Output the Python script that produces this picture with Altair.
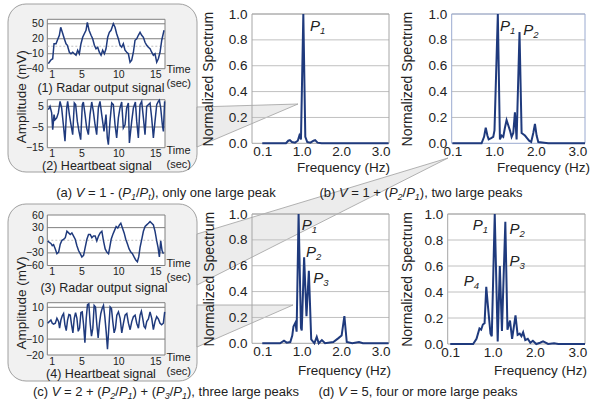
import altair as alt
import pandas as pd

FONT = "Liberation Sans"
NAVY = "#1F3A7D"
TXT = "#222222"
GRID = "#C0C0C0"
FRAME = "#A6A6A6"
W_, H_ = 600, 411

# ---------------- spectra (frequency in Hz, normalized value) ----------------
spec_a_f = [0.0, 0.60, 0.66, 0.70, 0.75, 0.83, 0.90, 0.94, 0.98, 1.04, 1.09, 1.14, 1.22, 1.30, 1.34, 1.40, 1.50, 3.20]
spec_a_v = [0.0, 0.0, 0.02, 0.025, 0.01, 0.005, 0.02, 0.06, 0.03, 1.0, 0.05, 0.01, 0.005, 0.02, 0.025, 0.005, 0.0, 0.0]

spec_b_f = [0.0, 0.70, 0.76, 0.80, 0.84, 0.87, 0.93, 0.98, 1.01, 1.09, 1.14, 1.18, 1.22, 1.26, 1.30, 1.34, 1.38, 1.42,
            1.46, 1.50, 1.54, 1.61, 1.66, 1.70, 1.74, 1.79, 1.84, 1.89, 1.94, 1.98, 2.02, 2.06, 2.20, 2.30, 3.18]
spec_b_v = [0.0, 0.0, 0.05, 0.12, 0.06, 0.03, 0.04, 0.05, 0.10, 1.0, 0.03, 0.06, 0.05, 0.12, 0.18, 0.14, 0.10, 0.05,
            0.08, 0.24, 0.03, 0.86, 0.08, 0.07, 0.06, 0.04, 0.02, 0.01, 0.08, 0.15, 0.06, 0.01, 0.005, 0.0, 0.0]

spec_c_f = [0.0, 0.45, 0.55, 0.62, 0.71, 0.76, 0.79, 0.84, 0.87, 0.92, 0.98, 1.00, 1.06, 1.12, 1.18, 1.24, 1.32, 1.38,
            1.43, 1.51, 1.59, 1.80, 1.93, 2.01, 2.08, 2.14, 2.28, 2.45, 2.55, 3.20]
spec_c_v = [0.0, 0.0, 0.02, 0.005, 0.01, 0.06, 0.13, 0.16, 0.09, 1.0, 0.12, 0.10, 0.665, 0.21, 0.56, 0.03, 0.0, 0.05,
            0.0, 0.025, 0.0, 0.01, 0.04, 0.06, 0.21, 0.01, 0.0, 0.01, 0.0, 0.0]

spec_d_f = [0.0, 0.54, 0.62, 0.69, 0.73, 0.77, 0.81, 0.85, 0.89, 0.95, 0.98, 1.05, 1.12, 1.17, 1.22, 1.30, 1.35, 1.41,
            1.46, 1.54, 1.59, 1.64, 1.68, 1.72, 1.77, 1.83, 1.89, 1.95, 2.03, 2.12, 2.19, 2.31, 2.45, 2.55, 3.18]
spec_d_v = [0.0, 0.0, 0.04, 0.12, 0.11, 0.15, 0.16, 0.44, 0.29, 0.08, 0.06, 1.0, 0.02, 0.60, 0.10, 0.94, 0.11, 0.18,
            0.04, 0.22, 0.07, 0.08, 0.06, 0.09, 0.03, 0.04, 0.01, 0.025, 0.0, 0.01, 0.02, 0.0, 0.005, 0.0, 0.0]

# peak labels (position of the "P", value, subscript)
peaks_a_f, peaks_a_v, peaks_a_s = [1.21], [0.865], ["1"]
peaks_b_f, peaks_b_v, peaks_b_s = [1.14, 1.70], [0.87, 0.84], ["1", "2"]
peaks_c_f, peaks_c_v, peaks_c_s = [1.00, 1.11, 1.29], [0.876, 0.665, 0.47], ["1", "2", "3"]
peaks_d_f, peaks_d_v, peaks_d_s = [0.53, 1.40, 1.40, 0.32], [0.877, 0.85, 0.60, 0.446], ["1", "2", "3", "4"]

freq_ticks = [0, 1, 2, 3]
spec_grid = [0.2, 0.4, 0.6, 0.8, 1.0]
spec_labels = [0.0, 0.2, 0.4, 0.6, 0.8, 1.0]

# ---------------- time signals (seconds, mV) ----------------
sig1_t = [0.54, 0.85, 1.13, 1.31, 1.58, 1.76, 2.03, 2.21, 2.43, 2.70, 2.93, 3.11, 3.38, 3.60, 3.83, 4.05, 4.28, 4.50,
          4.73, 4.95, 5.18, 5.40, 5.63, 5.81, 6.04, 6.31, 6.53, 6.76, 6.98, 7.21, 7.43, 7.66, 7.88, 8.11, 8.33, 8.56,
          8.78, 9.01, 9.32, 9.55, 9.77, 10.0, 10.22, 10.45, 10.67, 10.9, 11.13, 11.35, 11.58, 11.8, 12.03, 12.25,
          12.48, 12.7, 12.93, 13.15, 13.38, 13.6, 13.83, 14.05, 14.28, 14.5, 14.73, 14.95, 15.18, 15.4, 15.63, 15.86, 16.17]
sig1_v = [-30, -23, -20, 10, 10, 17, 27, 43, 33, 20, 10, 7, -7, -10, -7, -10, -13, -3, -10, 10, 23, 30, 37, 53, 37,
          27, 20, 7, 0, 3, -7, -13, -3, -10, 0, 23, 33, 37, 50, 43, 30, 20, 7, 3, 10, -3, -7, -10, -27, -23, -7, 17,
          20, 27, 33, 27, 23, 13, 7, 3, 0, -7, -13, -10, -27, -20, -7, 17, 37]

sig2_t = [0.54, 0.77, 0.99, 1.13, 1.31, 1.44, 1.67, 1.89, 2.12, 2.34, 2.57, 2.79, 3.02, 3.15, 3.38, 3.60, 3.83, 4.05,
          4.23, 4.46, 4.68, 4.91, 5.13, 5.27, 5.50, 5.72, 5.95, 6.17, 6.40, 6.62, 6.85, 7.07, 7.30, 7.52, 7.75, 8.06,
          8.33, 8.51, 8.65, 8.87, 9.10, 9.32, 9.55, 9.77, 10.0, 10.22, 10.45, 10.67, 10.90, 11.12, 11.35, 11.49, 11.80,
          12.03, 12.30, 12.48, 12.70, 12.93, 13.15, 13.38, 13.60, 13.83, 14.05, 14.28, 14.50, 14.73, 14.95, 15.18,
          15.40, 15.54, 15.72, 15.94, 16.08, 16.25]
sig2_v = [3.4, 5.0, 1.8, -6.3, 1.0, -1.5, -0.6, 1.8, 7.4, 4.2, -3.9, -11.9, 4.2, 7.4, 1.0, -3.9, -8.7, 6.6, 5.8, -2.3,
          -7.1, -11.1, 5.8, 7.1, 1.0, -5.5, -8.7, 1.0, 7.1, 2.6, -3.9, -8.7, 4.2, 7.4, 1.0, -7.1, 1.0, -10.3, -13.5,
          -2.3, 6.6, 5.8, -3.9, -10.3, -0.6, 4.2, 7.1, -5.5, -3.9, 4.2, 6.6, -12.7, -2.3, 4.2, 7.1, -2.3, -10.3, 5.8,
          7.4, -0.6, -8.7, 5.0, 5.8, 6.6, -0.6, -10.3, -2.3, 5.8, 7.4, 8.0, 4.2, -3.9, -7.1, 7.4]

sig3_t = [0.45, 0.67, 0.89, 1.07, 1.25, 1.48, 1.70, 1.93, 2.15, 2.38, 2.60, 2.83, 3.05, 3.28, 3.50, 3.72, 3.95, 4.17,
          4.40, 4.62, 4.85, 5.07, 5.30, 5.52, 5.75, 5.97, 6.20, 6.42, 6.64, 6.87, 7.09, 7.32, 7.54, 7.77, 7.99, 8.22,
          8.44, 8.67, 8.80, 9.03, 9.25, 9.47, 9.70, 9.92, 10.15, 10.33, 10.55, 10.78, 11.00, 11.23, 11.45, 11.68,
          11.90, 12.12, 12.35, 12.57, 12.75, 12.93, 13.16, 13.38, 13.61, 13.83, 14.06, 14.28, 14.51, 14.73, 14.95,
          15.18, 15.36, 15.54, 15.72, 15.90, 16.08]
sig3_v = [-1.5, -5.3, -7.6, -13.0, -10.7, -20.6, -32.0, -28.2, -9.2, 0, 2.3, 6.1, 21.4, 17.5, 13.7, 17.5, 9.9, 2.3,
          -13.0, -24.4, -32.0, -39.7, -35.9, -16.8, 2.3, 13.7, 13.7, 6.1, 9.9, 9.9, -1.5, 9.9, 17.5, 21.4, -1.5, -20.6,
          -28.2, -32.0, -20.6, 2.3, 13.7, 22.9, 32.8, 29.0, 36.6, 40.4, 29.0, 17.5, 2.3, -9.2, -20.6, -28.2, -32.0,
          -39.7, -47.3, -51.1, -39.7, -16.8, 2.3, 21.4, 32.8, 36.6, 40.4, 44.3, 40.4, 36.6, 21.4, -1.5, -16.8, -39.7,
          -1.5, -24.4, -32.0]

sig4_t = [0.45, 0.67, 0.89, 1.07, 1.25, 1.48, 1.70, 1.93, 2.06, 2.24, 2.42, 2.60, 2.78, 2.96, 3.14, 3.32, 3.50, 3.68,
          3.86, 4.04, 4.22, 4.40, 4.58, 4.76, 4.94, 5.12, 5.30, 5.48, 5.66, 5.83, 6.01, 6.19, 6.37, 6.55, 6.73, 6.91,
          7.09, 7.27, 7.45, 7.63, 7.81, 7.99, 8.17, 8.35, 8.53, 8.71, 8.89, 9.07, 9.25, 9.43, 9.61, 9.79, 10.01, 10.24,
          10.46, 10.69, 10.91, 11.14, 11.36, 11.59, 11.81, 12.03, 12.26, 12.48, 12.71, 12.93, 13.11, 13.29, 13.47,
          13.65, 13.83, 14.06, 14.28, 14.51, 14.73, 14.95, 15.18, 15.40, 15.63, 15.85, 16.08, 16.26]
sig4_v = [0, 1.0, 2.0, 0, -0.6, 0, 3.1, 1.0, -3.1, 2.0, 4.7, 6.1, -1.0, -4.7, 2.0, 5.5, 5.1, -1.0, -6.1, 3.1, 6.7, 3.1,
          -5.1, -3.1, 6.7, 7.1, -1.0, -12.2, 3.1, 11.6, 12.2, 0, -8.2, -3.1, 11.2, 10.2, -1.0, -9.2, 0, 6.1, 9.2, 11.2,
          4.1, -5.1, -16.3, -3.1, 10.2, 9.2, 1.0, -6.1, -3.1, 5.1, 7.1, 3.1, -6.1, 0, 5.1, 6.1, 0, -4.1, 1.0, 4.1, 5.1,
          0, -3.1, 5.1, 7.6, 3.1, -2.0, -3.1, 1.0, 2.7, 7.1, 3.1, -4.1, 1.0, 4.1, 2.7, 0, -1.0, 0, 7.1]

time_ticks = [1, 5, 10, 15]
time_domain = [0.4, 16.3]

layers = []
ONE = pd.DataFrame({"k": [0]})


def txt(text, x, y, size=13, italic=False, angle=0, align="left", baseline="alphabetic", color=TXT):
    kw = dict(text=text, font=FONT, fontSize=size, align=align, baseline=baseline, color=color)
    if italic:
        kw["fontStyle"] = "italic"
    if angle:
        kw["angle"] = angle
    return alt.Chart(ONE).mark_text(**kw).encode(x=alt.value(x), y=alt.value(y))


# ---------------- decorations: rounded boxes and call-out wedges ----------------
boxes = pd.DataFrame({"x": [8, 8], "x2": [197, 197], "y": [4, 204], "y2": [172, 381]})
layers.append(alt.Chart(boxes).mark_rect(cornerRadius=18, fill="#F1F1F1", stroke="#A0A0A0", strokeWidth=1).encode(
    x=alt.X("x:Q", scale=None), x2="x2", y=alt.Y("y:Q", scale=None), y2="y2"))

wedges = pd.DataFrame({
    "id": ["w1", "w1", "w2", "w2", "w3", "w3"],
    "x": [197, 298, 197, 448, 197, 293],
    "y": [107, 104, 234, 158, 305, 305],
    "y2": [147, 104, 285, 158, 347, 305],
})
layers.append(alt.Chart(wedges).mark_area(fill="#E6E6E6", fillOpacity=0.75, stroke="#A0A0A0", strokeWidth=0.8).encode(
    x=alt.X("x:Q", scale=None), y=alt.Y("y:Q", scale=None), y2="y2", detail="id:N"))


# ---------------- time-signal panels ----------------
def signal(t, v, yr, ydom, grid_vals, label_vals, dotted, title_dy):
    xs = alt.Scale(domain=time_domain, range=[47.3, 165], nice=False, zero=False)
    ys = alt.Scale(domain=ydom, range=yr, nice=False, zero=False)
    out = []
    fr = pd.DataFrame({"x0": [time_domain[0]], "x1": [time_domain[1]], "y0": [ydom[0]], "y1": [ydom[1]]})
    out.append(alt.Chart(fr).mark_rect(fill="white", stroke="#808080", strokeWidth=1).encode(
        x=alt.X("x0:Q", scale=xs, axis=None), x2="x1", y=alt.Y("y0:Q", scale=ys, axis=None), y2="y1"))
    gd = pd.DataFrame({"g": grid_vals, "x0": time_domain[0], "x1": time_domain[1]})
    out.append(alt.Chart(gd).mark_rule(color="#7F7F7F", strokeWidth=1).encode(
        y=alt.Y("g:Q", scale=ys, axis=None), x=alt.X("x0:Q", scale=xs, axis=None), x2="x1"))
    if dotted is not None:
        dd = pd.DataFrame({"g": [dotted], "x0": time_domain[0], "x1": time_domain[1]})
        out.append(alt.Chart(dd).mark_rule(color="#BFBFBF", strokeWidth=1, strokeDash=[2, 2]).encode(
            y=alt.Y("g:Q", scale=ys, axis=None), x=alt.X("x0:Q", scale=xs, axis=None), x2="x1"))
    df = pd.DataFrame({"t": t, "v": v})
    out.append(alt.Chart(df).mark_line(color=NAVY, strokeWidth=1.5, clip=True).encode(
        x=alt.X("t:Q", scale=xs, axis=alt.Axis(
            orient="bottom", offset=yr[0] - H_, values=time_ticks, format="d", domain=False, ticks=False,
            grid=False, labelFont=FONT, labelFontSize=10.5, labelColor=TXT, labelPadding=1, labelFlush=False,
            labelOverlap=False, title=["Time", "(sec)"], titleFont=FONT, titleFontSize=11, titleFontWeight="normal",
            titleColor=TXT, titleX=166, titleY=title_dy, titleAlign="left", titleBaseline="middle",
            titleLineHeight=14, zindex=2)),
        y=alt.Y("v:Q", scale=ys, axis=alt.Axis(
            orient="left", offset=-47.3, values=label_vals, format="d", domain=False, ticks=False, grid=False,
            labelFont=FONT, labelFontSize=10.5, labelColor=TXT, labelPadding=4, labelFlush=False,
            labelOverlap=False, title=None, zindex=2))))
    return out


layers += signal(sig1_t, sig1_v, [68.7, 19.3], [-40, 59], [50, 20, -10], [50, 20, -10, -40], 5, 1)
layers += signal(sig2_t, sig2_v, [147.7, 99.7], [-15, 8.2], [5, -5], [5, -5, -15], None, 3)
layers += signal(sig3_t, sig3_v, [265.5, 215], [-60, 60], [30, -30], [60, 30, 0, -30, -60], 0, -2)
layers += signal(sig4_t, sig4_v, [355, 302.7], [-20, 12.9], [10, -10], [10, 0, -10, -20], None, 2)


# ---------------- spectrum panels ----------------
def spectrum(f, v, xdom, xr, yr, pf, pv, ps, frame_color, ytitle_dx, xtitle_x, xtitle_dy):
    xs = alt.Scale(domain=xdom, range=xr, nice=False, zero=False)
    ys = alt.Scale(domain=[0, 1], range=yr, nice=False, zero=False)
    out = []
    gd = pd.DataFrame({"g": spec_grid, "x0": xdom[0], "x1": xdom[1]})
    out.append(alt.Chart(gd).mark_rule(color=GRID, strokeWidth=1).encode(
        y=alt.Y("g:Q", scale=ys, axis=None), x=alt.X("x0:Q", scale=xs, axis=None), x2="x1"))
    fr = pd.DataFrame({"x0": [xdom[0]], "x1": [xdom[1]], "y0": [0], "y1": [1]})
    out.append(alt.Chart(fr).mark_rect(fillOpacity=0, stroke=frame_color, strokeWidth=1).encode(
        x=alt.X("x0:Q", scale=xs, axis=None), x2="x1", y=alt.Y("y0:Q", scale=ys, axis=None), y2="y1"))
    df = pd.DataFrame({"f": f, "v": v})
    out.append(alt.Chart(df).mark_line(color=NAVY, strokeWidth=2, clip=True).encode(
        x=alt.X("f:Q", scale=xs, axis=alt.Axis(
            orient="bottom", offset=yr[0] - H_, values=freq_ticks,
            labelExpr="datum.value == 0 ? '0.1' : format(datum.value, '.1f')", domain=False, ticks=False,
            grid=False, labelFont=FONT, labelFontSize=13.5, labelColor=TXT, labelPadding=1, labelFlush=False,
            labelOverlap=False, title="Frequency (Hz)", titleFont=FONT, titleFontSize=13.5, titleFontWeight="normal",
            titleColor=TXT, titleX=xtitle_x, titleY=xtitle_dy, titleAlign="center", titleBaseline="middle",
            zindex=2)),
        y=alt.Y("v:Q", scale=ys, axis=alt.Axis(
            orient="left", offset=-xr[0], values=spec_labels, format=".1f", domain=False, ticks=False, grid=False,
            labelFont=FONT, labelFontSize=13.5, labelColor=TXT, labelPadding=5, labelFlush=False, labelOverlap=False,
            title="Normalized Spectrum", titleFont=FONT, titleFontSize=14, titleFontWeight="normal",
            titleColor=TXT, titleX=ytitle_dx, titleY=(yr[0] + yr[1]) / 2, titleAngle=270, titleAlign="center",
            titleBaseline="middle", zindex=2))))
    pk = pd.DataFrame({"f": pf, "v": pv, "s": ps})
    base = alt.Chart(pk).encode(x=alt.X("f:Q", scale=xs, axis=None), y=alt.Y("v:Q", scale=ys, axis=None))
    out.append(base.mark_text(text="P", font=FONT, fontSize=15, fontStyle="italic", align="left",
                              baseline="alphabetic", color=TXT))
    out.append(base.mark_text(font=FONT, fontSize=9.5, fontStyle="italic", align="left", baseline="alphabetic",
                              color=TXT, dx=10, dy=3).encode(text="s:N"))
    return out


layers += spectrum(spec_a_f, spec_a_v, [-0.26, 3.21], [252, 389], [143.3, 14], peaks_a_f, peaks_a_v, peaks_a_s,
                   FRAME, -44, 343, 24)
layers += spectrum(spec_b_f, spec_b_v, [-0.016, 3.18], [451.7, 585], [143.3, 14], peaks_b_f, peaks_b_v, peaks_b_s,
                   "#9AAAD0", -44, 543, 24)
layers += spectrum(spec_c_f, spec_c_v, [-0.26, 3.21], [252, 389], [343.3, 214], peaks_c_f, peaks_c_v, peaks_c_s,
                   FRAME, -42.5, 344, 27)
layers += spectrum(spec_d_f, spec_d_v, [-0.06, 3.18], [447.7, 585], [344, 214], peaks_d_f, peaks_d_v, peaks_d_s,
                   FRAME, -40, 540, 26)

# ---------------- texts inside the boxes ----------------
layers.append(txt("Amplitude (mV)", 21.5, 96.7, size=13.5, angle=270, align="center", baseline="middle"))
layers.append(txt("Amplitude (mV)", 21.5, 303, size=13.5, angle=270, align="center", baseline="middle"))
layers.append(txt("(1) Radar output signal", 101, 91.5, size=12.5, align="center"))
layers.append(txt("(2) Heartbeat signal", 97, 169.5, size=12.5, align="center"))
layers.append(txt("(3) Radar output signal", 104, 292, size=12.5, align="center"))
layers.append(txt("(4) Heartbeat signal", 101, 378, size=12.5, align="center"))

# ---------------- captions with italic letters and subscripts ----------------
AW = {' ': 278, '(': 333, ')': 333, 'a': 556, 'b': 556, 'c': 500, 'd': 556, 'e': 556, 'f': 278, 'g': 556,
      'h': 556, 'i': 222, 'k': 500, 'l': 222, 'm': 833, 'n': 556, 'o': 556, 'p': 556, 'r': 333, 's': 500,
      't': 278, 'u': 556, 'v': 500, 'w': 722, 'y': 500, '=': 584, '+': 584, '-': 333, '/': 278, ',': 278,
      'V': 667, 'P': 667}


def width(s, size):
    return sum(AW.get(c, 556) for c in s) * size / 1000.0


def caption(pieces, cx, base, size=13, sub=9):
    total = sum(width(p, sub if st == "s" else size) for p, st in pieces)
    x = cx - total / 2
    out = []
    for p, st in pieces:
        sz = sub if st == "s" else size
        lead = len(p) - len(p.lstrip(" "))
        out.append(txt(p.strip(" "), x + width(" " * lead, sz), base + (3 if st == "s" else 0), size=sz,
                       italic=(st in ("i", "s"))))
        x += width(p, sz)
    return out


cap_a = [("(a) ", "n"), ("V", "i"), (" = 1 - (", "n"), ("P", "i"), ("1", "s"), ("/", "n"), ("P", "i"), ("t", "s"),
         ("), only one large peak", "n")]
cap_b = [("(b) ", "n"), ("V", "i"), (" = 1 + (", "n"), ("P", "i"), ("2", "s"), ("/", "n"), ("P", "i"), ("1", "s"),
         ("), two large peaks", "n")]
cap_c = [("(c) ", "n"), ("V", "i"), (" = 2 + (", "n"), ("P", "i"), ("2", "s"), ("/", "n"), ("P", "i"), ("1", "s"),
         (") + (", "n"), ("P", "i"), ("3", "s"), ("/", "n"), ("P", "i"), ("1", "s"), ("), three large peaks", "n")]
cap_d = [("(d) ", "n"), ("V", "i"), (" = 5, four or more large peaks", "n")]

layers += caption(cap_a, 166, 197)
layers += caption(cap_b, 421, 197)
layers += caption(cap_c, 166, 396)
layers += caption(cap_d, 418, 396)

chart = alt.layer(*layers).resolve_scale(x="independent", y="independent").properties(
    width=W_, height=H_, padding=0, autosize=alt.AutoSizeParams(type="none"),
    background="white").configure_view(stroke=None)

chart.save("out.html", embed_options={"renderer": "svg", "actions": False})
